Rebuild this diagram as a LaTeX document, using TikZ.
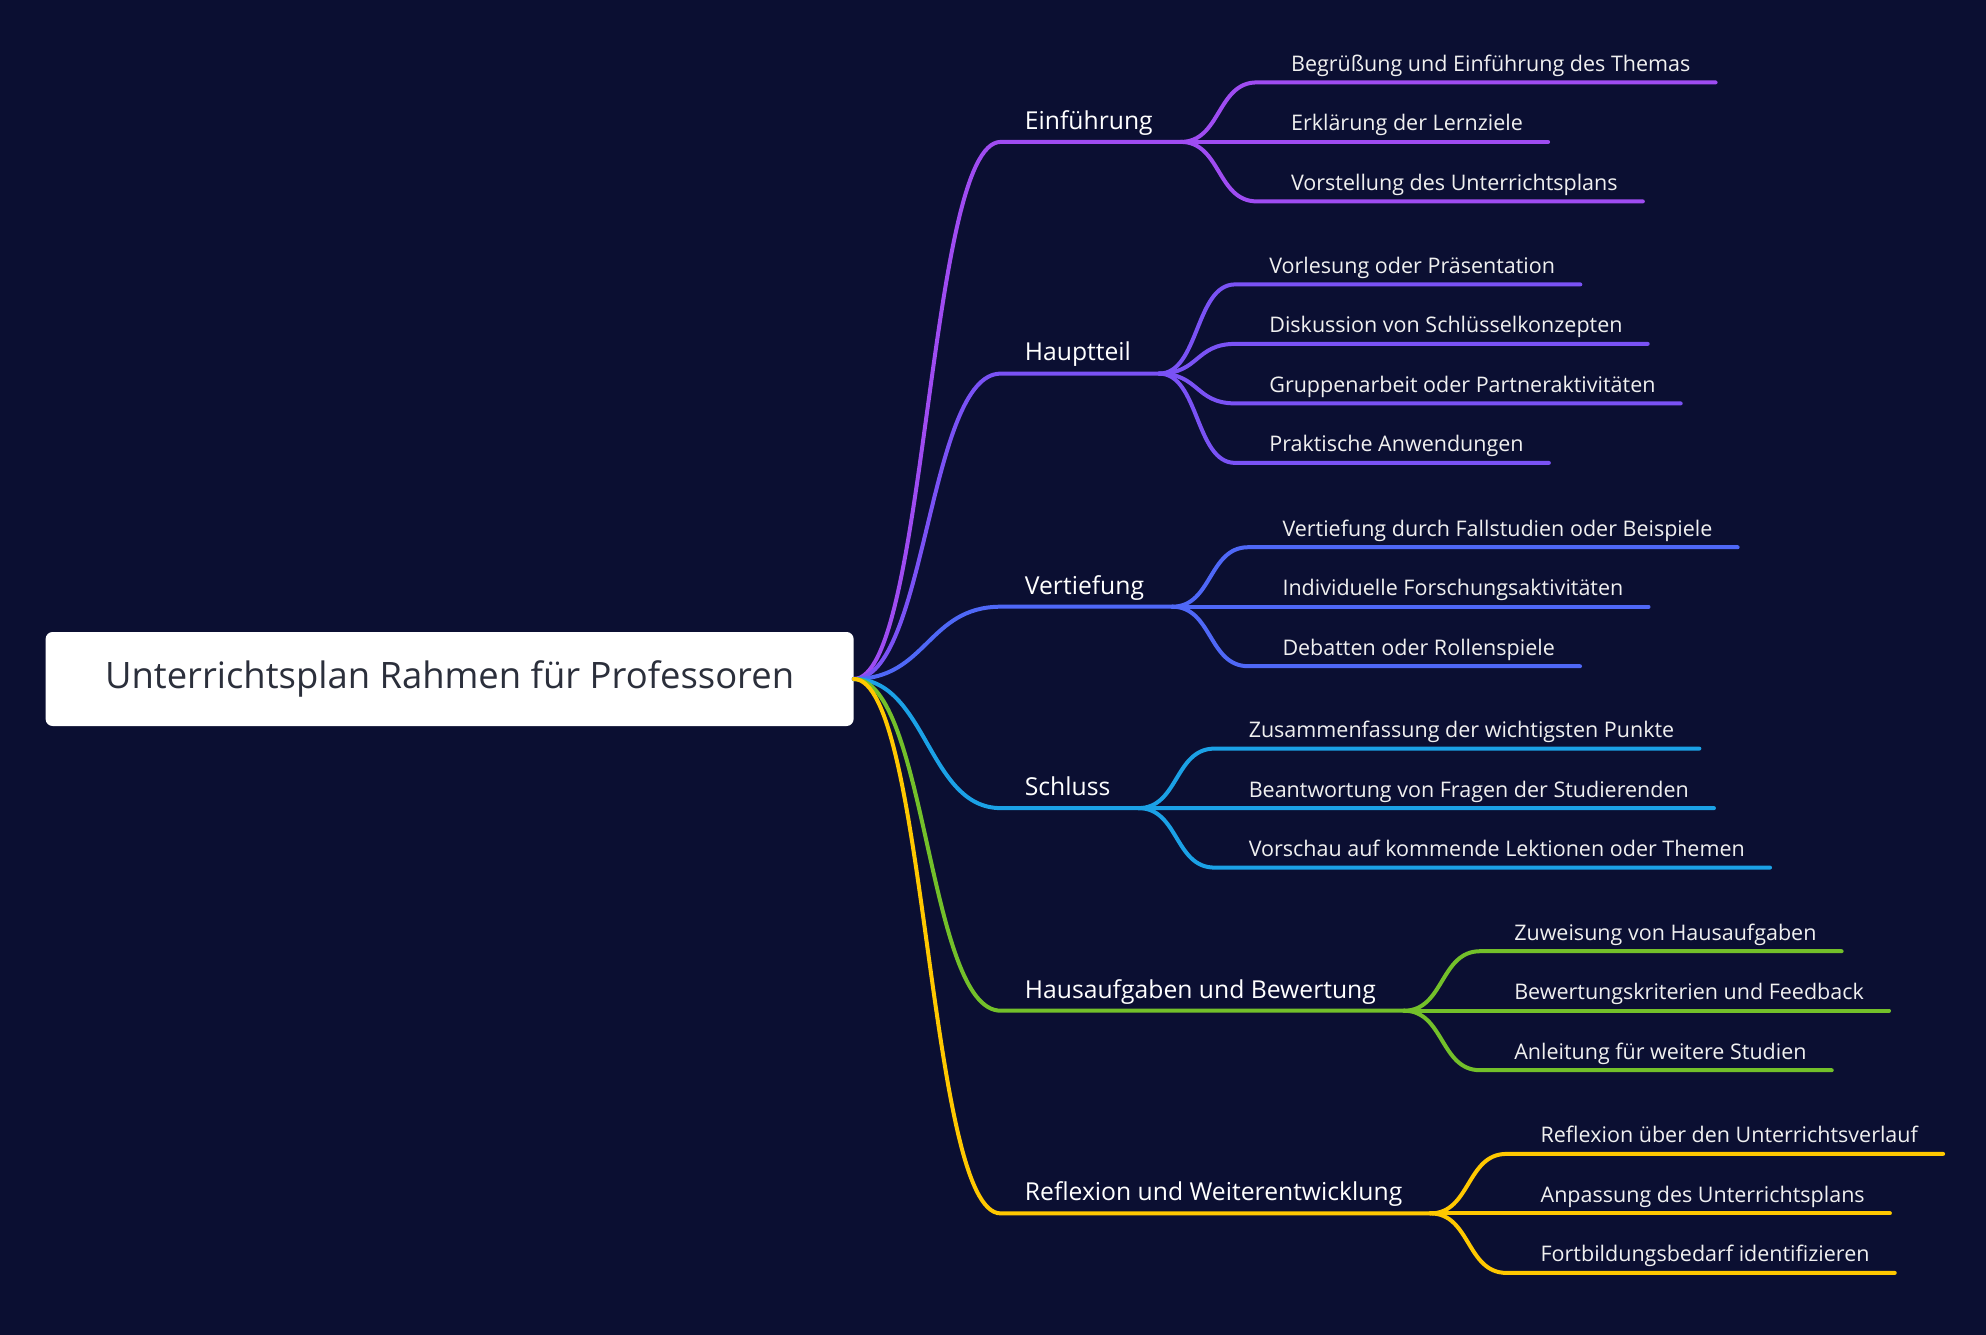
\documentclass[tikz,border=0pt]{standalone}
\usepackage{fontspec}
\setmainfont{Open Sans}
\usetikzlibrary{positioning}

\definecolor{bgnavy}{HTML}{0B0F32}
\definecolor{rootgray}{HTML}{2B2F3B}
\definecolor{cEinf}{HTML}{9F4CF2}
\definecolor{cHaupt}{HTML}{7A52F5}
\definecolor{cVert}{HTML}{4F68F7}
\definecolor{cSchl}{HTML}{1BA1E6}
\definecolor{cHaus}{HTML}{73C02A}
\definecolor{cRefl}{HTML}{FFC800}

\tikzset{
  rootbox/.style={fill=white, rounded corners=7pt, minimum width=808pt, minimum height=94pt,
    text=rootgray, font=\fontsize{36.4}{42}\selectfont},
  topic/.style={anchor=base west, inner sep=0pt, text=white, font=\fontsize{24.7}{28}\selectfont},
  leaf/.style={anchor=base west, inner sep=0pt, text=white!94!black, font=\fontsize{21.5}{25}\selectfont},
  link/.style={line width=4pt, line cap=round},
  tstart/.style={xshift=-24pt, yshift=-12.7pt},
  tend/.style={xshift=28pt, yshift=-12.7pt},
  lstart/.style={xshift=-34pt, yshift=-11pt},
  lend/.style={xshift=25pt, yshift=-11pt},
}

\begin{document}
\begin{tikzpicture}[x=1pt,y=-1pt]
\fill[bgnavy] (0,0) rectangle (1986,1335);
\useasboundingbox (0,0) rectangle (1986,1335);

% centre
\node[rootbox] (root) at (449.6,679) {Unterrichtsplan Rahmen für Professoren};

% main topics
\node[topic] (einf) at (1024.7,129.2) {Einführung};
\node[topic] (haupt) at (1024.7,360.9) {Hauptteil};
\node[topic] (vert) at (1024.7,594.0) {Vertiefung};
\node[topic] (schl) at (1024.7,795.4) {Schluss};
\node[topic] (haus) at (1024.7,998.0) {Hausaufgaben und Bewertung};
\node[topic] (refl) at (1024.7,1200.7) {Reflexion und Weiterentwicklung};

\draw[link, cEinf] (root.east) .. controls +(73,0) and +(-73,0) .. ([tstart]einf.base west) -- ([tend]einf.base east);
\draw[link, cHaupt] (root.east) .. controls +(73,0) and +(-73,0) .. ([tstart]haupt.base west) -- ([tend]haupt.base east);
\draw[link, cVert] (root.east) .. controls +(73,0) and +(-73,0) .. ([tstart]vert.base west) -- ([tend]vert.base east);
\draw[link, cSchl] (root.east) .. controls +(73,0) and +(-73,0) .. ([tstart]schl.base west) -- ([tend]schl.base east);
\draw[link, cHaus] (root.east) .. controls +(73,0) and +(-73,0) .. ([tstart]haus.base west) -- ([tend]haus.base east);
\draw[link, cRefl] (root.east) .. controls +(73,0) and +(-73,0) .. ([tstart]refl.base west) -- ([tend]refl.base east);

% column start for each group of leaves
\coordinate (einfX) at ([xshift=138pt]einf.base east);
\coordinate (hauptX) at ([xshift=138pt]haupt.base east);
\coordinate (vertX) at ([xshift=138pt]vert.base east);
\coordinate (schlX) at ([xshift=138pt]schl.base east);
\coordinate (hausX) at ([xshift=138pt]haus.base east);
\coordinate (reflX) at ([xshift=138pt]refl.base east);

% Einführung
\node[leaf] (einf1) at (einfX |- 0,71.4) {Begrüßung und Einführung des Themas};
\node[leaf] (einf2) at (einfX |- 0,130.9) {Erklärung der Lernziele};
\node[leaf] (einf3) at (einfX |- 0,190.4) {Vorstellung des Unterrichtsplans};
\draw[link, cEinf] ([tend]einf.base east) .. controls +(40,0) and +(-40,0) .. ([lstart]einf1.base west) -- ([lend]einf1.base east);
\draw[link, cEinf] ([tend]einf.base east) -- ([lstart]einf2.base west) -- ([lend]einf2.base east);
\draw[link, cEinf] ([tend]einf.base east) .. controls +(40,0) and +(-40,0) .. ([lstart]einf3.base west) -- ([lend]einf3.base east);

% Hauptteil
\node[leaf] (haupt1) at (hauptX |- 0,273.4) {Vorlesung oder Präsentation};
\node[leaf] (haupt2) at (hauptX |- 0,332.9) {Diskussion von Schlüsselkonzepten};
\node[leaf] (haupt3) at (hauptX |- 0,392.4) {Gruppenarbeit oder Partneraktivitäten};
\node[leaf] (haupt4) at (hauptX |- 0,451.9) {Praktische Anwendungen};
\draw[link, cHaupt] ([tend]haupt.base east) .. controls +(40,0) and +(-40,0) .. ([lstart]haupt1.base west) -- ([lend]haupt1.base east);
\draw[link, cHaupt] ([tend]haupt.base east) .. controls +(40,0) and +(-40,0) .. ([lstart]haupt2.base west) -- ([lend]haupt2.base east);
\draw[link, cHaupt] ([tend]haupt.base east) .. controls +(40,0) and +(-40,0) .. ([lstart]haupt3.base west) -- ([lend]haupt3.base east);
\draw[link, cHaupt] ([tend]haupt.base east) .. controls +(40,0) and +(-40,0) .. ([lstart]haupt4.base west) -- ([lend]haupt4.base east);

% Vertiefung
\node[leaf] (vert1) at (vertX |- 0,536.2) {Vertiefung durch Fallstudien oder Beispiele};
\node[leaf] (vert2) at (vertX |- 0,595.7) {Individuelle Forschungsaktivitäten};
\node[leaf] (vert3) at (vertX |- 0,655.2) {Debatten oder Rollenspiele};
\draw[link, cVert] ([tend]vert.base east) .. controls +(40,0) and +(-40,0) .. ([lstart]vert1.base west) -- ([lend]vert1.base east);
\draw[link, cVert] ([tend]vert.base east) -- ([lstart]vert2.base west) -- ([lend]vert2.base east);
\draw[link, cVert] ([tend]vert.base east) .. controls +(40,0) and +(-40,0) .. ([lstart]vert3.base west) -- ([lend]vert3.base east);

% Schluss
\node[leaf] (schl1) at (schlX |- 0,737.6) {Zusammenfassung der wichtigsten Punkte};
\node[leaf] (schl2) at (schlX |- 0,797.1) {Beantwortung von Fragen der Studierenden};
\node[leaf] (schl3) at (schlX |- 0,856.6) {Vorschau auf kommende Lektionen oder Themen};
\draw[link, cSchl] ([tend]schl.base east) .. controls +(40,0) and +(-40,0) .. ([lstart]schl1.base west) -- ([lend]schl1.base east);
\draw[link, cSchl] ([tend]schl.base east) -- ([lstart]schl2.base west) -- ([lend]schl2.base east);
\draw[link, cSchl] ([tend]schl.base east) .. controls +(40,0) and +(-40,0) .. ([lstart]schl3.base west) -- ([lend]schl3.base east);

% Hausaufgaben
\node[leaf] (haus1) at (hausX |- 0,940.2) {Zuweisung von Hausaufgaben};
\node[leaf] (haus2) at (hausX |- 0,999.7) {Bewertungskriterien und Feedback};
\node[leaf] (haus3) at (hausX |- 0,1059.2) {Anleitung für weitere Studien};
\draw[link, cHaus] ([tend]haus.base east) .. controls +(40,0) and +(-40,0) .. ([lstart]haus1.base west) -- ([lend]haus1.base east);
\draw[link, cHaus] ([tend]haus.base east) -- ([lstart]haus2.base west) -- ([lend]haus2.base east);
\draw[link, cHaus] ([tend]haus.base east) .. controls +(40,0) and +(-40,0) .. ([lstart]haus3.base west) -- ([lend]haus3.base east);

% Reflexion
\node[leaf] (refl1) at (reflX |- 0,1142.9) {Reflexion über den Unterrichtsverlauf};
\node[leaf] (refl2) at (reflX |- 0,1202.4) {Anpassung des Unterrichtsplans};
\node[leaf] (refl3) at (reflX |- 0,1261.9) {Fortbildungsbedarf identifizieren};
\draw[link, cRefl] ([tend]refl.base east) .. controls +(40,0) and +(-40,0) .. ([lstart]refl1.base west) -- ([lend]refl1.base east);
\draw[link, cRefl] ([tend]refl.base east) -- ([lstart]refl2.base west) -- ([lend]refl2.base east);
\draw[link, cRefl] ([tend]refl.base east) .. controls +(40,0) and +(-40,0) .. ([lstart]refl3.base west) -- ([lend]refl3.base east);
\end{tikzpicture}
\end{document}
